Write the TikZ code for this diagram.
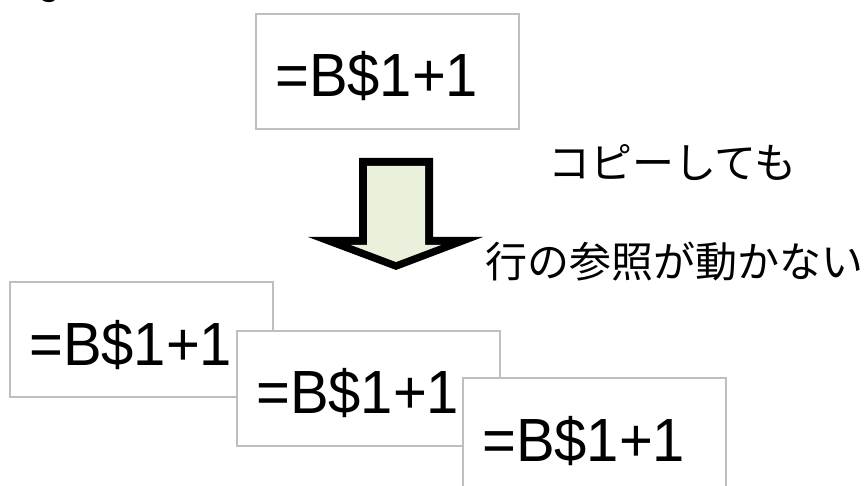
\documentclass[tikz,border=0pt]{standalone}
\usepackage{fontspec}
\setmainfont{Liberation Sans}
\newfontfamily\formulafont[FakeStretch=0.95]{Liberation Sans}
\newfontfamily\jpfont{Noto Sans CJK JP}
\definecolor{boxgray}{RGB}{191,191,191}
\definecolor{arrowgreen}{RGB}{233,240,220}
\begin{document}
\begin{tikzpicture}[x=1pt,y=-1pt,
  cell/.style={draw=boxgray,line width=1.6pt,fill=white,anchor=north west,
    minimum width=263pt,minimum height=115pt,inner sep=0pt,outer sep=0pt},
  formula/.style={anchor=base west,inner sep=0pt,font=\formulafont\fontsize{61}{72}\selectfont},
  jtext/.style={inner sep=0pt,font=\jpfont\fontsize{42}{50}\selectfont}]
\useasboundingbox (0,0) rectangle (867,486);
\clip (0,0) rectangle (867,486);
% cut-off text at top
\node[jtext,anchor=base west] (cut) at (27,1) {な};
% top cell
\node[cell] (top) at (256,14) {};
\node[formula] (ftop) at (275,97) {=B\$1+1};
% arrow
\fill[black] (359,158) -- (433,158) -- (433,237) -- (483,237) -- (396,270) -- (308,237) -- (359,237) -- cycle;
\fill[arrowgreen] (367,166) -- (425,166) -- (425,245) -- (441,245) -- (396,262) -- (351,245) -- (367,245) -- cycle;
% captions
\node[jtext] (cap1) at (672.5,163) {コピーしても};
\node[jtext] (cap2) at (674.5,262) {行の参照が動かない};
% copied cells
\node[cell] (c1) at (10,282) {};
\node[formula] (f1) at (29,365) {=B\$1+1};
\node[cell] (c2) at (237,331) {};
\node[formula] (f2) at (256,413) {=B\$1+1};
\node[cell] (c3) at (463,378) {};
\node[formula] (f3) at (482,461) {=B\$1+1};
\end{tikzpicture}
\end{document}
